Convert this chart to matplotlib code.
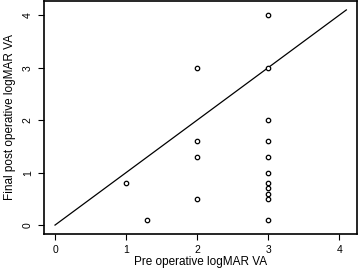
import matplotlib
matplotlib.use("Agg")
import matplotlib.pyplot as plt

pre_va = [1, 1.3, 2, 2, 2, 2, 3, 3, 3, 3, 3, 3, 3, 3, 3, 3, 3]
post_va = [0.8, 0.1, 3, 1.6, 1.3, 0.5, 4, 3, 2, 1.6, 1.3, 1.0, 0.8, 0.7, 0.6, 0.5, 0.1]
line_x = [0, 4.1]
line_y = [0, 4.1]
ticks = [0, 1, 2, 3, 4]

plt.rcParams['font.family'] = ['Liberation Sans', 'DejaVu Sans']
fig = plt.figure(figsize=(3.59, 2.73), dpi=100)
ax = fig.add_axes([44/359, 39/273, 313/359, 233/273])
ax.plot(line_x, line_y, color='black', lw=0.9)
ax.plot(pre_va, post_va, linestyle='none', marker='o', markersize=3.2,
        markerfacecolor='white', markeredgecolor='black', markeredgewidth=0.9)
ax.set_xlim(-0.155, 4.25)
ax.set_ylim(-0.17, 4.27)
ax.set_xticks(ticks)
ax.set_yticks(ticks)
ax.set_xticklabels([str(t) for t in ticks], fontsize=7.5)
ax.set_yticklabels([str(t) for t in ticks], fontsize=7.5, rotation=90, va='center')
ax.tick_params(length=4, width=0.8, pad=4)
for s in ax.spines.values():
    s.set_linewidth(1.2)
ax.set_xlabel("Pre operative logMAR VA", fontsize=8.5, labelpad=1)
ax.set_ylabel("Final post operative logMAR VA", fontsize=8.5, labelpad=5)
fig.savefig("out.png", dpi=100)
